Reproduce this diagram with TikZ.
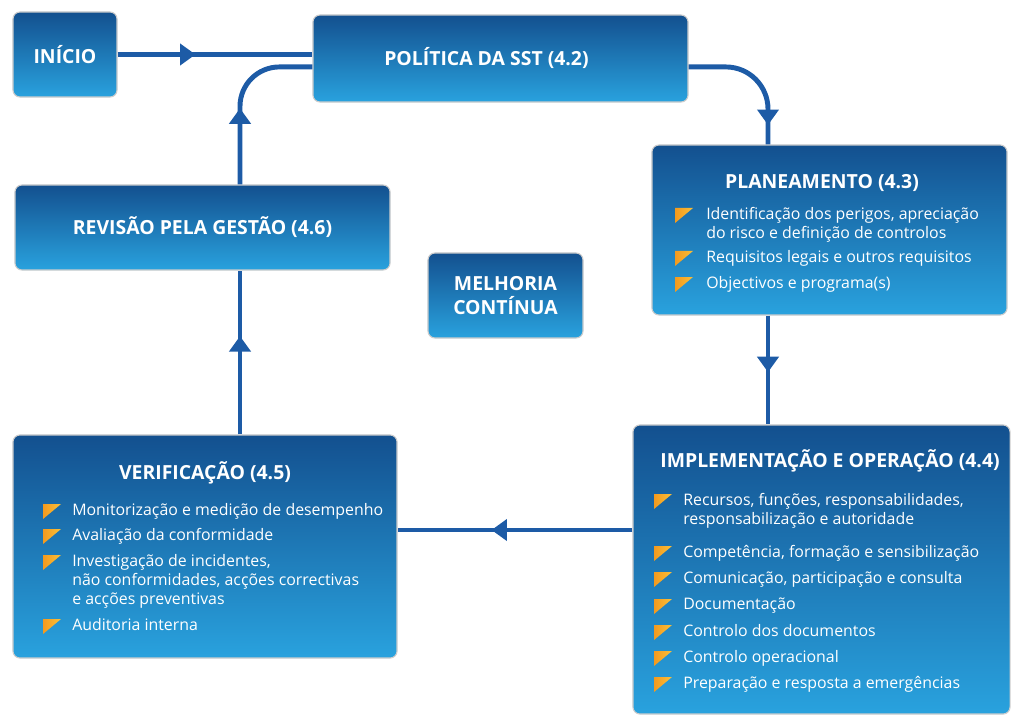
\documentclass[tikz,border=0pt]{standalone}
\usepackage{fontspec}
\setmainfont{Open Sans}
\usetikzlibrary{positioning}
\usetikzlibrary{decorations.markings}
\usetikzlibrary{arrows.meta}
\usepackage{xcolor}

\definecolor{boxtop}{HTML}{13508F}
\definecolor{boxbot}{HTML}{29A2DE}
\definecolor{flowblue}{HTML}{1D5BA6}
\definecolor{bulor}{HTML}{F39A1E}
\definecolor{bulye}{HTML}{FFD84A}

\tikzset{
  box/.style={rounded corners=5pt, top color=boxtop, bottom color=boxbot,
    draw=black!20, line width=0.8pt, text=white, align=center,
    font=\bfseries\fontsize{13.8}{17}\selectfont},
  title/.style={text=white, font=\bfseries\fontsize{13.8}{17}\selectfont},
  item/.style={text=white, font=\fontsize{11.3}{13.4}\selectfont,
    align=left, anchor=north west, inner sep=0pt},
  bullet/.style={left color=bulor, right color=bulye},
  flow/.style={draw=flowblue, line width=3.5pt},
  midarrow/.style={postaction={decorate, decoration={markings,
    mark=at position #1 with {\arrow[flowblue]{Triangle[length=11pt,width=15pt]}}}}}
}

\begin{document}
\begin{tikzpicture}[x=0.025cm, y=-0.025cm]

\useasboundingbox (0,0) rectangle (1011,715);

% boxes
\node[box, minimum width=2.6cm, minimum height=2.125cm] (inicio) at (65,54.5) {INÍCIO};
\node[box, minimum width=9.375cm, minimum height=2.175cm] (politica) at (500.5,58.5) {POLÍTICA DA SST (4.2)\hspace*{20pt}};
\node[box, minimum width=8.875cm, minimum height=4.25cm] (planeamento) at (829.5,230) {};
\node[box, minimum width=9.375cm, minimum height=2.125cm] (revisao) at (202.5,227.5) {REVISÃO PELA GESTÃO (4.6)};
\node[box, minimum width=3.875cm, minimum height=2.125cm] (melhoria) at (505.5,295.5) {MELHORIA\\CONTÍNUA};
\node[box, minimum width=9.425cm, minimum height=7.225cm] (implementacao) at (821.5,569.5) {};
\node[box, minimum width=9.6cm, minimum height=5.575cm] (verificacao) at (205,546.5) {};

% titles
\node[title] (pl-title) at (822,183) {PLANEAMENTO (4.3)};
\node[title] (im-title) at (830,461) {IMPLEMENTAÇÃO E OPERAÇÃO (4.4)};
\node[title] (ve-title) at (205,473) {VERIFICAÇÃO (4.5)};

% lists
\foreach \y/\t [count=\i] in {207/{Identificação dos perigos, apreciação\\do risco e definição de controlos},
    250/{Requisitos legais e outros requisitos}, 276/{Objectivos e programa(s)}}
{
  \node[item] (pl-\i) at (706,\y) {\t};
  \shade[bullet] (pl-\i.north west) ++(-31,1) -- ++(18,0) -- ++(-18,15) -- cycle;
}

\foreach \y/\t [count=\i] in {493/{Recursos, funções, responsabilidades,\\responsabilização e autoridade},
    545/{Competência, formação e sensibilização}, 571/{Comunicação, participação e consulta},
    598/{Documentação}, 624/{Controlo dos documentos}, 650/{Controlo operacional},
    676/{Preparação e resposta a emergências}}
{
  \node[item] (im-\i) at (683,\y) {\t};
  \shade[bullet] (im-\i.north west) ++(-29,1) -- ++(18,0) -- ++(-18,15) -- cycle;
}

\foreach \y/\t [count=\i] in {503/{Monitorização e medição de desempenho}, 528/{Avaliação da conformidade},
    554/{Investigação de incidentes,\\não conformidades, acções correctivas\\e acções preventivas},
    618/{Auditoria interna}}
{
  \node[item] (ve-\i) at (72,\y) {\t};
  \shade[bullet] (ve-\i.north west) ++(-29,1) -- ++(18,0) -- ++(-18,15) -- cycle;
}

% connectors
\coordinate (loopx) at (240,0);
\coordinate (rightx) at (768,0);
\coordinate (lowy) at (0,530);

\draw[flow, midarrow=0.4] (inicio.east) -- (inicio.east -| politica.west);
\draw[flow, rounded corners=30pt, midarrow=0.86] ([yshift=-6pt]politica.east) -| (planeamento.north -| rightx);
\draw[flow, midarrow=0.52] (planeamento.south -| rightx) -- (implementacao.north -| rightx);
\draw[flow, midarrow=0.6] (implementacao.west |- lowy) -- (verificacao.east |- lowy);
\draw[flow, midarrow=0.6] (verificacao.north -| loopx) -- (revisao.south -| loopx);
\draw[flow, rounded corners=28pt, midarrow=0.44] (revisao.north -| loopx) |- ([yshift=-6pt]politica.west);

\end{tikzpicture}
\end{document}
